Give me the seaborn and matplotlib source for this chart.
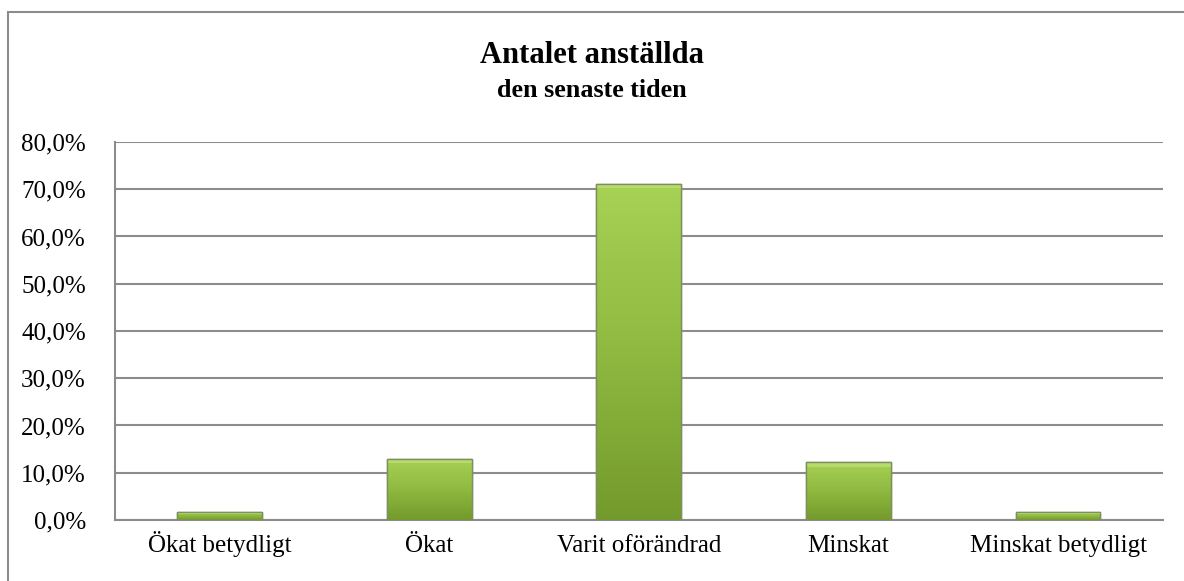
import numpy as np
import pandas as pd
import seaborn as sns
import matplotlib.pyplot as plt
from matplotlib.ticker import FuncFormatter, FixedLocator
from matplotlib.colors import LinearSegmentedColormap
from matplotlib.patches import Rectangle

categories = ['Ökat betydligt', 'Ökat', 'Varit oförändrad', 'Minskat', 'Minskat betydligt']
values = [1.7, 13.0, 71.2, 12.3, 1.6]
yticks = [0, 10, 20, 30, 40, 50, 60, 70, 80]


def pct_label(v, pos):
    return f"{v:.1f}%".replace('.', ',')


def main():
    df = pd.DataFrame({'svar': categories, 'andel': values})

    sns.set_style('white')
    plt.rcParams['font.family'] = ['Liberation Serif', 'DejaVu Serif']
    plt.rcParams['text.color'] = 'black'

    fig = plt.figure(figsize=(11.84, 5.81), dpi=100)
    ax = fig.add_axes([0.0971, 0.105, 0.885, 0.6506])

    sns.barplot(data=df, x='svar', y='andel', color='#94c34a', width=0.405,
                edgecolor='#7d8f60', linewidth=1.0, ax=ax, zorder=3)

    # gradient fill inside every bar, with a lighter bevel at the top
    cmap = LinearSegmentedColormap.from_list('g', ['#739a2c', '#8fb940', '#a8d255'])
    grad = np.linspace(0, 1, 256).reshape(-1, 1)
    for p in ax.patches:
        x0, y0 = p.get_x(), p.get_y()
        w, h = p.get_width(), p.get_height()
        im = ax.imshow(grad, cmap=cmap, aspect='auto', origin='lower',
                       extent=[x0, x0 + w, y0, y0 + h], zorder=4)
        im.set_clip_path(p)
        bev = min(1.0, h * 0.25)
        ax.add_patch(Rectangle((x0, y0 + h - bev), w, bev, facecolor='#b8dc6c',
                               edgecolor='none', zorder=5))
        ax.add_patch(Rectangle((x0, y0), w, h, fill=False, edgecolor='#7d8f60',
                               linewidth=1.0, zorder=6))

    ax.set_xlim(-0.5, len(categories) - 0.5)
    ax.set_ylim(0, 80)
    ax.yaxis.set_major_locator(FixedLocator(yticks))
    ax.yaxis.set_major_formatter(FuncFormatter(pct_label))
    ax.grid(axis='y', color='#8c8c8c', linewidth=1.5, zorder=0)
    ax.set_axisbelow(True)

    ax.set_xlabel('')
    ax.set_ylabel('')
    ax.tick_params(axis='x', which='major', length=0, labelsize=18, pad=23, colors='black')
    for lab in ax.get_xticklabels():
        lab.set_va('baseline')
    ax.set_xticks(np.arange(-0.5, len(categories)), minor=True)
    ax.tick_params(axis='x', which='minor', length=8, width=1.5, color='#8c8c8c', direction='out')
    ax.tick_params(axis='y', length=8, width=1.5, color='#8c8c8c', direction='out',
                   labelsize=18, pad=13)
    for lab in ax.get_yticklabels():
        lab.set_color('black')

    for side in ['top', 'right']:
        ax.spines[side].set_visible(False)
    ax.spines['bottom'].set_color('#8c8c8c')
    ax.spines['bottom'].set_linewidth(1.5)
    ax.spines['left'].set_color('#8c8c8c')
    ax.spines['left'].set_linewidth(1.5)

    fig.text(0.5, 1 - 63 / 581, 'Antalet anställda', ha='center', va='baseline',
             fontsize=22, fontweight='bold', color='black')
    fig.text(0.5, 1 - 97 / 581, 'den senaste tiden', ha='center', va='baseline',
             fontsize=18.8, fontweight='bold', color='black')

    # outer chart frame
    fig.patches.append(Rectangle((8 / 1184, -0.1), 1.2, 1.1 - 12 / 581,
                                 transform=fig.transFigure, fill=False,
                                 edgecolor='#8c8c8c', linewidth=1.5))

    fig.savefig('out.png', dpi=100)


if __name__ == "__main__":
    main()
